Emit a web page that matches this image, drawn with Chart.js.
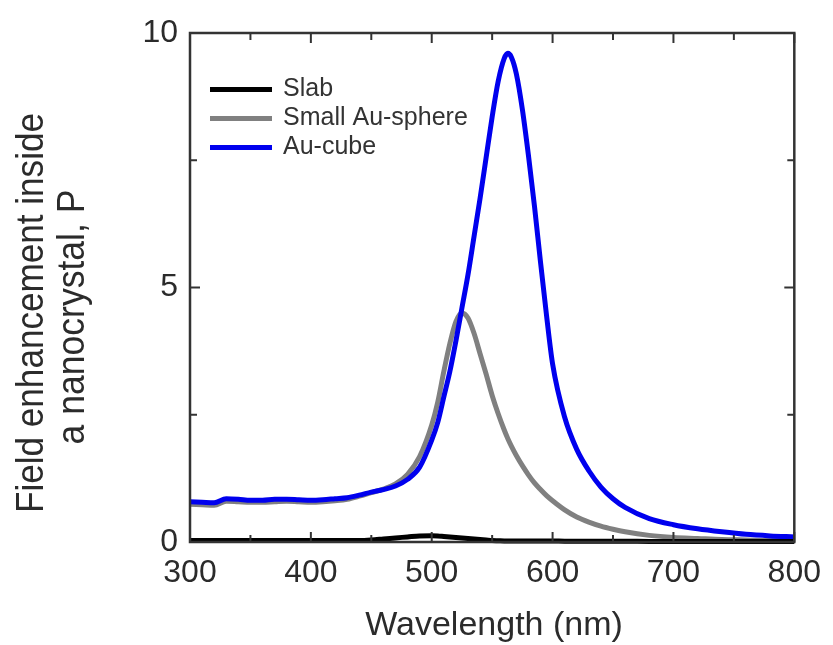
<!DOCTYPE html>
<html>
<head>
<meta charset="utf-8">
<script src="https://cdn.jsdelivr.net/npm/chart.js@4/dist/chart.umd.min.js"></script>
<style>
  html, body { margin: 0; padding: 0; background: #ffffff; }
  canvas { display: block; }
</style>
</head>
<body>
<canvas id="chart" width="833" height="645"></canvas>
<script>
// ---- data ----
const wavelengths = [
  300, 310, 320, 330, 340, 350, 360, 370, 380, 390, 400, 410, 420, 430, 440, 450, 460, 470, 480, 490,
  500, 505, 510, 515, 520, 525, 530, 535, 540, 545, 550, 555, 560,
  563, 566,
  570, 575, 580, 585, 590, 595, 600,
  610, 620, 630, 640, 650, 660,
  680, 700, 720, 740, 760, 780, 800
];
const slab = [
  0.03, 0.03, 0.03, 0.03, 0.03, 0.03, 0.03, 0.03, 0.03, 0.03, 0.03, 0.03, 0.03, 0.03, 0.03, 0.04, 0.06, 0.08, 0.10, 0.12,
  0.125, 0.12, 0.11, 0.10, 0.09, 0.08, 0.07, 0.06, 0.05, 0.04, 0.03, 0.025, 0.02,
  0.02, 0.02,
  0.02, 0.02, 0.02, 0.02, 0.02, 0.02, 0.02,
  0.015, 0.015, 0.015, 0.015, 0.015, 0.015,
  0.01, 0.01, 0.01, 0.01, 0.01, 0.01, 0.01
];
const smallSphere = [
  0.74, 0.73, 0.72, 0.80, 0.79, 0.78, 0.78, 0.79, 0.80, 0.79, 0.78, 0.79, 0.81, 0.84, 0.90, 0.97, 1.04, 1.14, 1.33, 1.68,
  2.30, 2.75, 3.35, 3.90, 4.33, 4.50, 4.40, 4.10, 3.70, 3.30, 2.88, 2.52, 2.20,
  2.03, 1.88,
  1.70, 1.50, 1.32, 1.16, 1.03, 0.91, 0.81,
  0.63, 0.49, 0.39, 0.31, 0.25, 0.20,
  0.13, 0.09, 0.07, 0.05, 0.04, 0.03, 0.03
];
const auCube = [
  0.79, 0.78, 0.77, 0.85, 0.84, 0.82, 0.82, 0.84, 0.84, 0.83, 0.82, 0.83, 0.85, 0.87, 0.92, 0.98, 1.03, 1.10, 1.23, 1.47,
  2.00, 2.35, 2.85, 3.35, 3.95, 4.60, 5.25, 6.00, 6.75, 7.55, 8.35, 9.05, 9.50,
  9.60, 9.52,
  9.20, 8.50, 7.60, 6.60, 5.50, 4.45, 3.50,
  2.45, 1.82, 1.40, 1.08, 0.85, 0.68,
  0.46, 0.34, 0.26, 0.20, 0.15, 0.12, 0.10
];
const seriesLabels = ['Slab', 'Small Au-sphere', 'Au-cube'];
const seriesColors = ['#000000', '#808080', '#0000ee'];
const xTickValues = [300, 400, 500, 600, 700, 800];
const yTickValues = [0, 5, 10];
const xMinorStep = 50;
const yMinorStep = 2.5;
const xTitle = 'Wavelength (nm)';
const yTitleLines = ['Field enhancement inside', 'a nanocrystal, P'];

const FONT = '"Liberation Sans", Arial, Helvetica, sans-serif';
const TEXT = '#2b2b2b';

function makeSet(label, values, color, order) {
  return {
    label: label,
    data: wavelengths.map((w, i) => ({ x: w, y: values[i] })),
    borderColor: color,
    backgroundColor: color,
    borderWidth: 5,
    pointRadius: 0,
    cubicInterpolationMode: 'monotone',
    fill: false,
    order: order,
    clip: 8
  };
}

const frameTicks = {
  id: 'frameTicks',
  afterDatasetsDraw(chart) {
    const { ctx, chartArea: { left, right, top, bottom }, scales: { x, y } } = chart;
    ctx.save();
    ctx.strokeStyle = '#333333';
    ctx.lineWidth = 2.5;
    ctx.strokeRect(left, top, right - left, bottom - top);
    ctx.lineWidth = 2;
    const seg = (x1, y1, x2, y2) => { ctx.beginPath(); ctx.moveTo(x1, y1); ctx.lineTo(x2, y2); ctx.stroke(); };
    for (let v = x.min; v <= x.max + 1e-9; v += xMinorStep) {
      const px = x.getPixelForValue(v);
      const len = xTickValues.includes(v) ? 10 : 7;
      seg(px, bottom, px, bottom - len);
      seg(px, top, px, top + len);
    }
    for (let v = y.min; v <= y.max + 1e-9; v += yMinorStep) {
      const py = y.getPixelForValue(v);
      const len = yTickValues.includes(v) ? 10 : 7;
      seg(left, py, left + len, py);
      seg(right, py, right - len, py);
    }
    ctx.restore();
  }
};

const textPlugin = {
  id: 'textPlugin',
  afterDraw(chart) {
    const { ctx, chartArea: { left, top } } = chart;
    ctx.save();
    ctx.fillStyle = TEXT;
    // x title
    ctx.font = '34px ' + FONT;
    ctx.textAlign = 'center';
    ctx.textBaseline = 'alphabetic';
    ctx.fillText(xTitle, 494, 635);
    // y title (two lines, rotated)
    ctx.font = '38px ' + FONT;
    ctx.save();
    ctx.translate(43, 313);
    ctx.rotate(-Math.PI / 2);
    ctx.fillText(yTitleLines[0], 0, 0, 400);
    ctx.restore();
    ctx.save();
    ctx.translate(84, 317);
    ctx.rotate(-Math.PI / 2);
    ctx.fillText(yTitleLines[1], 0, 0, 255);
    ctx.restore();
    // legend
    ctx.font = '25px ' + FONT;
    ctx.textAlign = 'left';
    ctx.textBaseline = 'middle';
    chart.data.datasets.forEach((ds, i) => {
      const yy = top + 56.5 + 29 * i;
      ctx.strokeStyle = ds.borderColor;
      ctx.lineWidth = 5;
      ctx.beginPath();
      ctx.moveTo(left + 20, yy);
      ctx.lineTo(left + 82, yy);
      ctx.stroke();
      ctx.fillStyle = '#333333';
      ctx.fillText(ds.label, left + 93, yy);
    });
    ctx.restore();
  }
};

new Chart(document.getElementById('chart'), {
  type: 'line',
  data: {
    datasets: [
      makeSet(seriesLabels[0], slab, seriesColors[0], 0),
      makeSet(seriesLabels[1], smallSphere, seriesColors[1], 2),
      makeSet(seriesLabels[2], auCube, seriesColors[2], 1)
    ]
  },
  options: {
    responsive: false,
    animation: false,
    devicePixelRatio: 1,
    layout: { padding: { top: 33, right: 31, left: 0, bottom: 0 } },
    plugins: { legend: { display: false }, tooltip: { enabled: false } },
    scales: {
      x: {
        type: 'linear',
        position: 'bottom',
        min: 300,
        max: 800,
        afterBuildTicks: (s) => { s.ticks = xTickValues.map(v => ({ value: v })); },
        afterFit: (s) => { s.height = 103; },
        grid: { display: false, drawTicks: false, tickLength: 0 },
        border: { display: false },
        ticks: { font: { family: FONT, size: 32 }, color: TEXT, padding: 12, maxRotation: 0, autoSkip: false }
      },
      y: {
        type: 'linear',
        position: 'left',
        min: 0,
        max: 10,
        afterBuildTicks: (s) => { s.ticks = yTickValues.map(v => ({ value: v })); },
        afterFit: (s) => { s.width = 190; },
        grid: { display: false, drawTicks: false, tickLength: 0 },
        border: { display: false },
        ticks: { font: { family: FONT, size: 32 }, color: TEXT, padding: 12 }
      }
    }
  },
  plugins: [frameTicks, textPlugin]
});
</script>
</body>
</html>
